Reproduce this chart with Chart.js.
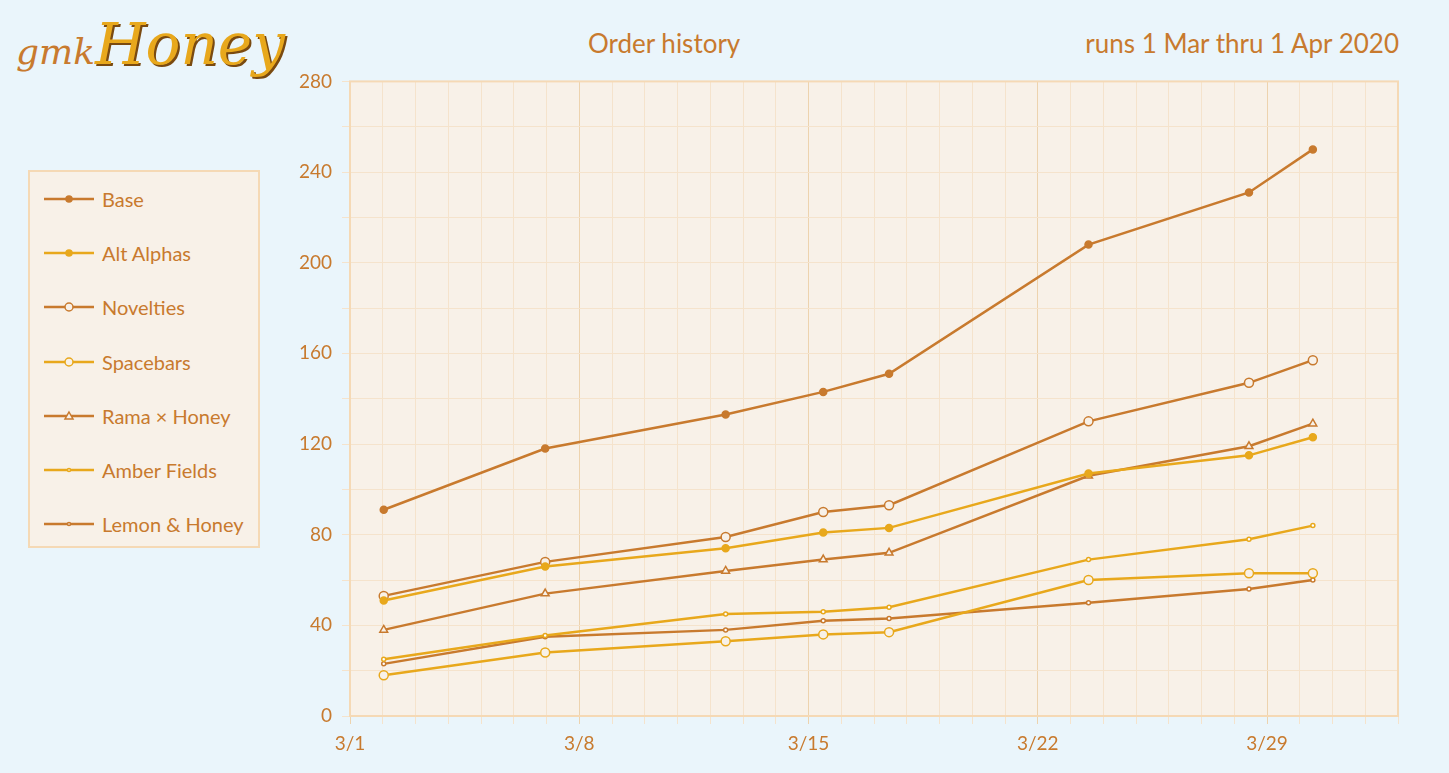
<!DOCTYPE html>
<html><head><meta charset="utf-8">
<script src="https://cdn.jsdelivr.net/npm/chart.js@4"></script>
<style>
body{margin:0;width:1449px;height:773px;background:#EAF5FB;font-family:Lato,sans-serif;position:relative;overflow:hidden}
#wrap{position:absolute;left:290px;top:60px;width:1130px;height:713px}
.t{position:absolute;color:#C87A2E;font-size:26px}
#legend{position:absolute;left:28px;top:170px;width:232px;height:378px;border:2px solid #F5D9B5;background:#F8F1E8;box-sizing:border-box;padding-top:0}
.li{height:54.2px;display:flex;align-items:center;color:#C87A2E;font-size:20px}
.li svg{margin-left:12px;margin-right:6px}
</style></head><body>
<div class="t" style="left:16px;top:10px;font-size:58px;font-style:italic;font-family:'DejaVu Serif',serif;color:#E8A81C;text-shadow:2px 2px 0 #7a4a10"><span style="font-size:36px;color:#C87A2E;text-shadow:none">gmk</span>Honey</div>
<div class="t" style="left:588px;top:27px">Order history</div>
<div class="t" style="right:50px;top:27px">runs 1 Mar thru 1 Apr 2020</div>
<div id="legend"></div>
<div id="wrap"><canvas id="c"></canvas></div>
<script>
const DARK='#C87A2E', LIGHT='#E8A81C';
const days=[1.03,5.96,11.47,14.45,16.46,22.55,27.45,29.4];
const seriesNames=['Base','Alt Alphas','Novelties','Spacebars','Rama × Honey','Amber Fields','Lemon & Honey'];
const base=[91,118,133,143,151,208,231,250];
const altAlphas=[51,66,74,81,83,107,115,123];
const novelties=[53,68,79,90,93,130,147,157];
const spacebars=[18,28,33,36,37,60,63,63];
const rama=[38,54,64,69,72,106,119,129];
const amber=[25,35.5,45,46,48,69,78,84];
const lemon=[23,35,38,42,43,50,56,60];
const yTicks=[0,40,80,120,160,200,240,280];
const xTickLabels={0:'3/1',7:'3/8',14:'3/15',21:'3/22',28:'3/29'};
const styles=[
 [base,DARK,'circle',DARK,3.5],[altAlphas,LIGHT,'circle',LIGHT,3.5],
 [novelties,DARK,'circle','#F8F1E8',4.5],[spacebars,LIGHT,'circle','#F8F1E8',4.5],
 [rama,DARK,'triangle','#F8F1E8',4.5],[amber,LIGHT,'circle','#fff',2],[lemon,DARK,'circle','#fff',2]];
const datasets=styles.map((s,i)=>({label:seriesNames[i],data:s[0].map((v,j)=>({x:days[j],y:v})),
 borderColor:s[1],backgroundColor:s[3],pointStyle:s[2],pointRadius:s[4],pointBorderWidth:1.5,borderWidth:2.5,pointBorderColor:s[1]}));
const lg=document.getElementById('legend');
styles.forEach((s,i)=>{
 let mk = s[2]==='triangle' ? `<polygon points="27,5 31,12 23,12" fill="${s[3]}" stroke="${s[1]}" stroke-width="1.5"/>`
  : `<circle cx="27" cy="9" r="${s[4]-0.5}" fill="${s[3]}" stroke="${s[1]}" stroke-width="1.5"/>`;
 lg.innerHTML+=`<div class="li"><svg width="54" height="18"><line x1="2" y1="9" x2="52" y2="9" stroke="${s[1]}" stroke-width="2.5"/>${mk}</svg>${seriesNames[i]}</div>`;
});
const bgPlugin={id:'bg',beforeDraw(ch){const a=ch.chartArea,c=ch.ctx;c.save();c.fillStyle='#F8F1E8';c.fillRect(a.left,a.top,a.right-a.left,a.bottom-a.top);c.restore();},
 afterDraw(ch){const a=ch.chartArea,c=ch.ctx;c.save();c.strokeStyle='#F5D9B5';c.lineWidth=2;c.strokeRect(a.left,a.top,a.right-a.left,a.bottom-a.top);c.restore();}};
new Chart(document.getElementById('c'),{type:'line',data:{datasets},plugins:[bgPlugin],
 options:{responsive:true,maintainAspectRatio:false,animation:false,
  layout:{padding:{top:12,right:22}},
  plugins:{legend:{display:false},tooltip:{enabled:false}},
  scales:{
   x:{type:'linear',min:0,max:32,afterFit(s){s.height=57;},
    grid:{color:c=>c.tick.value%7===0?'#EDD3AE':'#F5E3CC',lineWidth:1},border:{display:false},
    ticks:{stepSize:1,autoSkip:false,maxRotation:0,color:DARK,font:{family:'Lato',size:19},padding:8,callback:v=>xTickLabels[v]||''}},
   y:{min:0,max:280,afterFit(s){s.width=60;},
    afterBuildTicks(s){const t=[];for(let v=0;v<=280;v+=20)t.push({value:v});s.ticks=t;},
    grid:{color:'#F5E3CC'},border:{display:false},
    ticks:{color:DARK,font:{family:'Lato',size:19},padding:10,callback:v=>yTicks.includes(v)?v:''}}
  }}});
</script></body></html>
